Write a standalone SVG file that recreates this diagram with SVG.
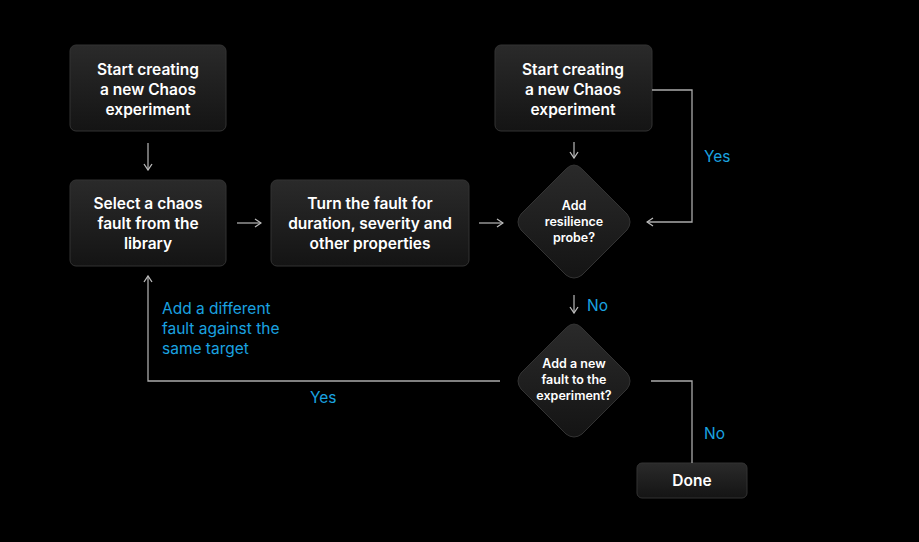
<svg xmlns="http://www.w3.org/2000/svg" width="919" height="542" viewBox="0 0 919 542">
<defs>
<linearGradient id="g" x1="0" y1="0" x2="0" y2="1"><stop offset="0" stop-color="#2a2a2a"/><stop offset="1" stop-color="#141414"/></linearGradient>
<marker id="a" viewBox="0 0 10 10" refX="9" refY="5" markerWidth="10" markerHeight="10" markerUnits="userSpaceOnUse" orient="auto"><path d="M3,1 L9,5 L3,9" fill="none" stroke="#bbb" stroke-width="1.3"/></marker>
</defs>
<style>
.n{fill:url(#g);stroke:#333;stroke-width:1}
.t{font-family:Inter,"Liberation Sans",sans-serif;font-weight:600;fill:#fff;text-anchor:middle}
.b{font-size:15.5px}.s{font-size:12.5px}
.l{font-family:Inter,"Liberation Sans",sans-serif;font-size:15.5px;fill:#1aa3e0}
.c{fill:none;stroke:#aaa;stroke-width:1.3}
</style>
<rect width="919" height="542" fill="#000"/>
<g id="start1"><rect class="n" x="70" y="45" width="156" height="86" rx="6"/><text class="t b" x="148" y="75">Start creating<tspan x="148" dy="20">a new Chaos</tspan><tspan x="148" dy="20">experiment</tspan></text></g>
<g id="select"><rect class="n" x="70" y="180" width="156" height="86" rx="6"/><text class="t b" x="148" y="209">Select a chaos<tspan x="148" dy="20">fault from the</tspan><tspan x="148" dy="20">library</tspan></text></g>
<g id="turn"><rect class="n" x="271" y="180" width="198" height="86" rx="6"/><text class="t b" x="370" y="209">Turn the fault for<tspan x="370" dy="20">duration, severity and</tspan><tspan x="370" dy="20">other properties</tspan></text></g>
<g id="start2"><rect class="n" x="495" y="45" width="157" height="86" rx="6"/><text class="t b" x="573" y="75">Start creating<tspan x="573" dy="20">a new Chaos</tspan><tspan x="573" dy="20">experiment</tspan></text></g>
<g id="probe"><path class="n" d="M574,165 Q578,165 582,169 L627,214 Q633,222 627,230 L582,275 Q574,281 566,275 L521,230 Q515,222 521,214 L566,169 Q570,165 574,165Z"/><text class="t s" x="574" y="210">Add<tspan x="574" dy="16">resilience</tspan><tspan x="574" dy="16">probe?</tspan></text></g>
<g id="newfault"><path class="n" d="M574,324 Q578,324 582,328 L627,373 Q633,381 627,389 L582,434 Q574,440 566,434 L521,389 Q515,381 521,373 L566,328 Q570,324 574,324Z"/><text class="t s" x="574" y="368">Add a new<tspan x="574" dy="16">fault to the</tspan><tspan x="574" dy="16">experiment?</tspan></text></g>
<g id="done"><rect class="n" x="637" y="463" width="110" height="35" rx="5"/><text class="t b" x="692" y="486">Done</text></g>
<g id="connectors">
<line class="c" x1="148" y1="143" x2="148" y2="170" marker-end="url(#a)"/>
<line class="c" x1="237" y1="223" x2="261" y2="223" marker-end="url(#a)"/>
<line class="c" x1="479" y1="223" x2="503" y2="223" marker-end="url(#a)"/>
<line class="c" x1="574" y1="142" x2="574" y2="158" marker-end="url(#a)"/>
<polyline class="c" points="652,90 692,90 692,222 647,222" marker-end="url(#a)"/>
<line class="c" x1="574" y1="295" x2="574" y2="313" marker-end="url(#a)"/>
<polyline class="c" points="500,381 148,381 148,276" marker-end="url(#a)"/>
<polyline class="c" points="651,381 692,381 692,463"/>
<text class="l" x="704" y="162">Yes</text>
<text class="l" x="587" y="311">No</text>
<text class="l" x="162" y="314">Add a different<tspan x="162" dy="20">fault against the</tspan><tspan x="162" dy="20">same target</tspan></text>
<text class="l" x="310" y="403">Yes</text>
<text class="l" x="704" y="439">No</text>
</g>
</svg>
